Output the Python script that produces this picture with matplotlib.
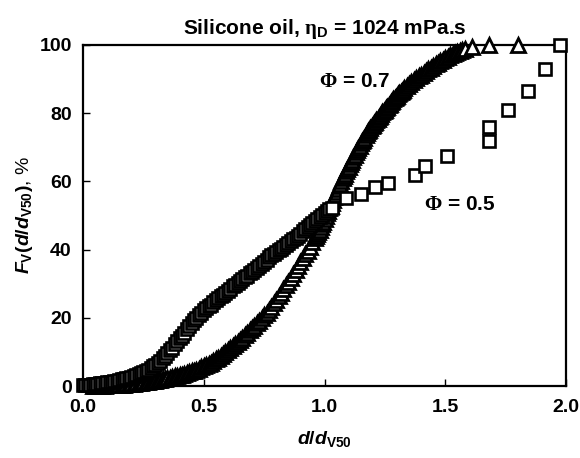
import matplotlib
matplotlib.use("Agg")
import matplotlib.pyplot as plt

plt.rcParams['font.family'] = 'Liberation Sans'
plt.rcParams['font.weight'] = 'bold'
plt.rcParams['mathtext.fontset'] = 'custom'
plt.rcParams['mathtext.rm'] = 'Liberation Sans:bold'
plt.rcParams['mathtext.it'] = 'Liberation Sans:bold:italic'
plt.rcParams['mathtext.bf'] = 'Liberation Sans:bold'
plt.rcParams['mathtext.sf'] = 'Liberation Serif'

# Cumulative volume distribution, Phi = 0.5 (squares)
x_phi05 = [0.00, 0.01, 0.02, 0.03, 0.04, 0.05, 0.06, 0.07, 0.08, 0.09,
           0.10, 0.11, 0.12, 0.13, 0.14, 0.15, 0.16, 0.17, 0.18, 0.19,
           0.20, 0.21, 0.22, 0.23, 0.24, 0.25, 0.26, 0.27, 0.28, 0.29,
           0.30, 0.31, 0.32, 0.33, 0.34, 0.35, 0.36, 0.37, 0.38, 0.39,
           0.40, 0.41, 0.42, 0.43, 0.44, 0.45, 0.46, 0.47, 0.48, 0.49,
           0.50, 0.51, 0.52, 0.53, 0.54, 0.55, 0.56, 0.57, 0.58, 0.59,
           0.60, 0.61, 0.62, 0.63, 0.64, 0.65, 0.66, 0.67, 0.68, 0.69,
           0.70, 0.71, 0.72, 0.73, 0.74, 0.75, 0.76, 0.77, 0.78, 0.79,
           0.80, 0.81, 0.82, 0.83, 0.84, 0.85, 0.86, 0.87, 0.88, 0.89,
           0.90, 0.91, 0.92, 0.93, 0.94, 0.95, 0.96, 0.97, 0.98, 0.99,
           1.00, 1.01, 1.02, 1.03,
           1.089, 1.150, 1.211, 1.262, 1.374, 1.415, 1.507, 1.680, 1.680,
           1.761, 1.843, 1.914, 1.975]
F_phi05 = [0.2, 0.3, 0.35, 0.45, 0.5, 0.6, 0.7, 0.8, 0.9, 1.0,
           1.1, 1.2, 1.3, 1.5, 1.6, 1.8, 1.95, 2.15, 2.35, 2.5,
           2.75, 2.9, 3.15, 3.5, 3.75, 4.05, 4.4, 4.85, 5.35, 5.85,
           6.3, 6.85, 7.5, 8.2, 8.9, 9.7, 10.45, 11.3, 12.2, 13.1,
           14.0, 14.8, 15.7, 16.6, 17.5, 18.4, 19.3, 20.1, 20.8, 21.5,
           22.2, 22.8, 23.4, 23.9, 24.5, 25.1, 25.7, 26.3, 26.8, 27.4,
           28.0, 28.6, 29.2, 29.7, 30.3, 30.8, 31.4, 31.9, 32.4, 33.0,
           33.5, 34.1, 34.6, 35.2, 35.8, 36.4, 37.1, 37.7, 38.3, 38.8,
           39.3, 39.8, 40.3, 40.7, 41.3, 41.8, 42.4, 43.0, 43.5, 44.1,
           44.7, 45.4, 46.0, 46.6, 47.2, 47.8, 48.4, 49.0, 49.6, 50.2,
           50.7, 51.3, 51.8, 52.3,
           55.0, 56.4, 58.4, 59.6, 61.8, 64.5, 67.5, 71.7, 76.0,
           81.0, 86.5, 92.9, 100.0]

# Cumulative volume distribution, Phi = 0.7 (triangles)
x_phi07 = [0.04, 0.05, 0.06, 0.07, 0.08, 0.09,
           0.10, 0.11, 0.12, 0.13, 0.14, 0.15, 0.16, 0.17, 0.18, 0.19,
           0.20, 0.21, 0.22, 0.23, 0.24, 0.25, 0.26, 0.27, 0.28, 0.29,
           0.30, 0.31, 0.32, 0.33, 0.34, 0.35, 0.36, 0.37, 0.38, 0.39,
           0.40, 0.41, 0.42, 0.43, 0.44, 0.45, 0.46, 0.47, 0.48, 0.49,
           0.50, 0.51, 0.52, 0.53, 0.54, 0.55, 0.56, 0.57, 0.58, 0.59,
           0.60, 0.61, 0.62, 0.63, 0.64, 0.65, 0.66, 0.67, 0.68, 0.69,
           0.70, 0.71, 0.72, 0.73, 0.74, 0.75, 0.76, 0.77, 0.78, 0.79,
           0.80, 0.81, 0.82, 0.83, 0.84, 0.85, 0.86, 0.87, 0.88, 0.89,
           0.90, 0.91, 0.92, 0.93, 0.94, 0.95, 0.96,
           0.965, 0.970, 0.975, 0.980, 0.985, 0.990, 0.995, 1.000,
           1.005, 1.010, 1.015, 1.020, 1.025, 1.030, 1.035, 1.040, 1.045, 1.050,
           1.055, 1.060, 1.065, 1.070, 1.075, 1.080, 1.085, 1.090, 1.095, 1.100,
           1.105, 1.110, 1.115, 1.120, 1.125, 1.130, 1.135, 1.140, 1.145, 1.150,
           1.155, 1.160, 1.165, 1.170, 1.175, 1.180, 1.185, 1.190, 1.195, 1.200,
           1.205, 1.210, 1.215, 1.220, 1.225, 1.230, 1.235, 1.240, 1.245, 1.250,
           1.255, 1.260, 1.265, 1.270, 1.275, 1.280, 1.285, 1.290, 1.295, 1.300,
           1.305, 1.310, 1.315, 1.320, 1.325, 1.330,
           1.34, 1.35, 1.36, 1.37, 1.38, 1.39, 1.40, 1.41, 1.42, 1.43,
           1.44, 1.45, 1.46, 1.47, 1.48, 1.49, 1.50, 1.51, 1.52, 1.53,
           1.54, 1.55, 1.56, 1.57, 1.58, 1.609, 1.680, 1.802]
F_phi07 = [0.0, 0.05, 0.1, 0.1, 0.15, 0.15,
           0.2, 0.2, 0.25, 0.3, 0.3, 0.35, 0.4, 0.45, 0.5, 0.6,
           0.65, 0.75, 0.85, 0.95, 1.0, 1.1, 1.15, 1.25, 1.35, 1.45,
           1.55, 1.7, 1.85, 2.0, 2.15, 2.3, 2.45, 2.65, 2.85, 3.0,
           3.2, 3.35, 3.6, 3.85, 4.05, 4.3, 4.55, 4.85, 5.15, 5.45,
           5.85, 6.15, 6.55, 6.9, 7.4, 7.8, 8.3, 8.8, 9.35, 9.95,
           10.5, 11.1, 11.7, 12.3, 12.9, 13.6, 14.2, 14.9, 15.5, 16.3,
           17.0, 17.7, 18.4, 19.2, 20.0, 20.7, 21.5, 22.4, 23.3, 24.3,
           25.3, 26.4, 27.4, 28.4, 29.5, 30.6, 31.7, 32.8, 33.9, 35.1,
           36.3, 37.5, 38.7, 39.7, 40.9, 42.1, 43.3,
           43.9, 44.5, 45.1, 45.8, 46.6, 47.4, 48.2, 49.0,
           49.8, 50.6, 51.4, 52.2, 52.9, 53.7, 54.5, 55.3, 56.1, 56.9,
           57.7, 58.5, 59.3, 60.1, 60.9, 61.6, 62.3, 63.0, 63.7, 64.3,
           65.0, 65.7, 66.4, 67.1, 67.8, 68.5, 69.2, 69.8, 70.5, 71.1,
           71.7, 72.2, 72.8, 73.5, 74.1, 74.7, 75.2, 75.7, 76.2, 76.6,
           77.1, 77.5, 78.0, 78.4, 78.9, 79.3, 79.7, 80.2, 80.6, 81.0,
           81.4, 81.8, 82.3, 82.7, 83.2, 83.6, 84.0, 84.4, 84.8, 85.1,
           85.5, 85.8, 86.2, 86.6, 86.9, 87.3,
           87.9, 88.5, 89.1, 89.7, 90.3, 90.8, 91.3, 91.8, 92.3, 92.8,
           93.3, 93.8, 94.3, 94.8, 95.3, 95.7, 96.1, 96.5, 96.9, 97.3,
           97.7, 98.0, 98.3, 98.6, 98.9, 99.5, 100.0, 100.0]

x_ticks = [0.0, 0.5, 1.0, 1.5, 2.0]
y_ticks = [0, 20, 40, 60, 80, 100]

fig = plt.figure(figsize=(5.8, 4.58), dpi=100)
ax = fig.add_axes([0.143, 0.157, 0.833, 0.745])

ax.plot(x_phi07, F_phi07, ls='none', marker='^', ms=10, mfc='white',
        mec='black', mew=2.0, clip_on=False, zorder=3)
ax.plot(x_phi05, F_phi05, ls='none', marker='s', ms=8.5, mfc='white',
        mec='black', mew=1.9, clip_on=False, zorder=4)

ax.set_xlim(0, 2)
ax.set_ylim(0, 100)
ax.set_xticks(x_ticks)
ax.set_yticks(y_ticks)
ax.set_xticklabels([f'{v:.1f}' for v in x_ticks])
ax.tick_params(direction='in', length=5, width=1, labelsize=14, pad=9)
ax.tick_params(axis='y', pad=8)
for s in ax.spines.values():
    s.set_linewidth(1.6)

ax.set_xlabel(r'$\mathit{d/d}_\mathrm{V50}$', fontsize=14, labelpad=10)
ax.set_ylabel(r'$\mathit{F}_\mathrm{V}(\mathit{d/d}_\mathrm{V50})$, %',
              fontsize=14, labelpad=3)
ax.set_title(r'Silicone oil, $\mathsf{\eta}_\mathrm{D}$ = 1024 mPa.s',
             fontsize=15, fontweight='bold', pad=8)

ax.text(1.126, 89.2, r'$\mathsf{\Phi}$ = 0.7', fontsize=15, fontweight='bold',
        ha='center', va='center')
ax.text(1.561, 53.1, r'$\mathsf{\Phi}$ = 0.5', fontsize=15, fontweight='bold',
        ha='center', va='center')

fig.savefig('out.png', dpi=100)
